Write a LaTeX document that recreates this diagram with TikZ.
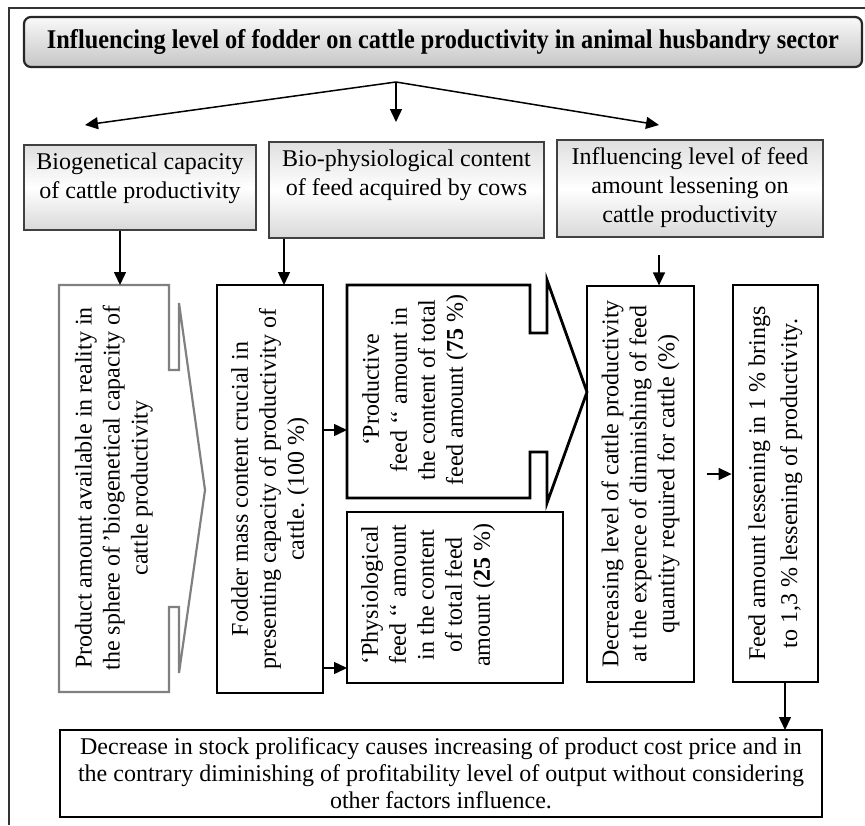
\documentclass[tikz,border=0pt]{standalone}
\usepackage{fontspec}
\setmainfont{Liberation Serif}
\newfontfamily\headfont{Liberation Serif}[FakeStretch=0.9]
\usetikzlibrary{arrows.meta}

\newcommand{\firstline}{\rule{0pt}{24pt}}

\begin{document}
\begin{tikzpicture}[x=1pt, y=-1pt,
    head/.style={draw=black!85, line width=2.2pt, rounded corners=7pt,
      top color=gray!5, bottom color=gray!45, inner sep=0pt,
      font=\headfont\bfseries\fontsize{27}{30}\selectfont},
    graybox/.style={draw=black!75, line width=1.6pt, top color=gray!25,
      bottom color=gray!30, middle color=white, inner sep=0pt,
      font=\fontsize{24}{29}\selectfont},
    plainbox/.style={draw, line width=1.2pt, inner sep=0pt},
    heavybox/.style={draw, line width=2.8pt, inner sep=0pt},
    vtext/.style={rotate=90, align=center, font=\fontsize{24}{28}\selectfont},
    dbox/.style={draw=black!50, line width=2.2pt},
    fbox/.style={draw, line width=2.8pt},
    arr/.style={-{Triangle[length=13pt,width=12pt]}, line width=1.5pt}]
  \useasboundingbox (0,0) rectangle (865,825);
  \draw [black!80, line width=1.2pt] (9,825) -- (9,8) -- (865,8);

  \node [head, minimum width=838pt, minimum height=50pt] (title) at (443,42)
    {Influencing level of fodder on cattle productivity in animal husbandry sector};

  % three groups
  \node [graybox, minimum width=232pt] (bioA) at (140,187.5)
    {\parbox[c][85pt][t]{226pt}{\centering\firstline Biogenetical capacity\\ of cattle productivity}};
  \node [graybox, minimum width=275pt] (bioB) at (406.5,190)
    {\parbox[c][96pt][t]{266pt}{\centering\firstline Bio-physiological content\\ of feed acquired by cows}};
  \node [graybox, minimum width=266pt] (bioC) at (690,188.5)
    {\parbox[c][97pt][t]{258pt}{\centering\firstline Influencing level of feed\\ amount lessening on\\ cattle productivity}};

  \coordinate (fork) at (396,82);
  \coordinate (forkL) at (85,125);
  \coordinate (forkM) at (396,122);
  \coordinate (forkR) at (659,125);
  \draw [arr] (fork) to (forkL);
  \draw [arr] (fork) to (forkM);
  \draw [arr] (fork) to (forkR);

  % product amount (arrow box)
  \draw [dbox] (59,285) -- (169,285) -- (169,370) -- (179,370) -- (179,303)
    -- (205,490) -- (179,673) -- (179,607) -- (169,607) -- (169,692) -- (59,692) -- cycle;
  \node [vtext] (prod) at (114,488)
    {Product amount available in reality in\\ the sphere of\,’biogenetical capacity of\\ cattle productivity};

  \node [plainbox, vtext, minimum width=408pt, minimum height=106pt] (fod) at (270,489)
    {Fodder mass content crucial in\\ presenting capacity of productivity of\\ cattle. (100 \%)};

  % productive feed (arrow box)
  \draw [fbox] (347,285) -- (530,285) -- (530,333) -- (547,333) -- (547,280)
    -- (587,392) -- (547,503) -- (547,452) -- (530,452) -- (530,498) -- (347,498) -- cycle;
  \node [vtext] (prodfeed) at (415,390)
    {‘Productive\\ feed ‘‘ amount in\\ the content of total\\ feed amount (\textbf{75} \%)};

  \node [plainbox, minimum width=216pt, minimum height=171pt] (phys) at (455,597.5) {};
  \node [vtext] (physTxt) at (428,595)
    {‘Physiological\\ feed ‘‘ amount\\ in the content\\ of total feed\\ amount (\textbf{25} \%)};

  \node [plainbox, vtext, minimum width=396pt, minimum height=107pt] (decl) at (640.5,484)
    {Decreasing level of cattle productivity\\ at the expence of diminishing of feed\\ quantity required for cattle (\%)};

  \node [heavybox, vtext, minimum width=397pt, minimum height=85pt,
    font=\fontsize{24}{32}\selectfont] (feed) at (775.5,483.5)
    {Feed amount lessening in 1 \% brings\\ to 1,3 \% lessening of productivity.};

  \node [plainbox, align=center, minimum width=762pt, minimum height=87pt,
    font=\fontsize{24}{27}\selectfont] (concl) at (441,773.5)
    {Decrease in stock prolificacy causes increasing of product cost price and in\\
     the contrary diminishing of profitability level of output without considering\\
     other factors influence.};

  % connectors
  \coordinate (prodIn) at (120,285);
  \coordinate (fodIn) at (284,285);
  \coordinate (declOut) at (659,255);
  \coordinate (feedSrc) at (707,474);
  \coordinate (prodfeedIn) at (347,430);
  \coordinate (physIn) at (347,668);
  \coordinate (conclIn) at (785,730);
  \draw [arr] (bioA.south -| prodIn) to (prodIn);
  \draw [arr] (bioB.south -| fodIn) to (fodIn);
  \draw [arr] (declOut) to (decl.east -| declOut);
  \draw [arr] (fod.south |- prodfeedIn) to (prodfeedIn);
  \draw [arr] (fod.south |- physIn) to (physIn);
  \draw [arr] (feedSrc) to (feed.north |- feedSrc);
  \draw [arr] (feed.west -| conclIn) to (conclIn);
\end{tikzpicture}
\end{document}
